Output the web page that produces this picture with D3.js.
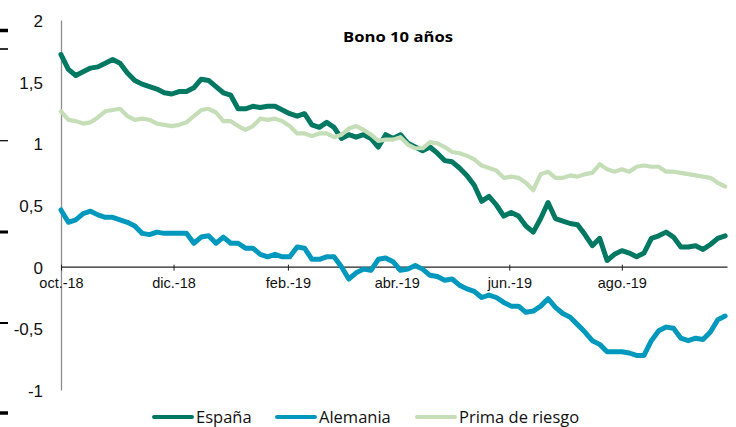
<!DOCTYPE html>
<html>
<head>
<meta charset="utf-8">
<script src="https://cdn.jsdelivr.net/npm/d3@7"></script>
<style>
  body { margin: 0; background: #fff; }
  svg { display: block; }
  .axis text { font-family: "Liberation Sans", Arial, sans-serif; fill: #111; }
</style>
</head>
<body>
<svg id="chart"></svg>
<script>
// Data (4-day steps starting 1 Oct 2018)
const startDate = new Date(2018, 9, 1);
const stepDays = 4;

const espana = [1.72,1.60,1.55,1.58,1.61,1.62,1.65,1.68,1.65,1.57,
  1.51,1.48,1.46,1.44,1.41,1.40,1.42,1.42,1.45,1.52,
  1.51,1.46,1.41,1.39,1.28,1.28,1.30,1.29,1.30,1.30,
  1.27,1.24,1.22,1.24,1.15,1.13,1.17,1.13,1.04,1.07,
  1.05,1.07,1.04,0.97,1.07,1.04,1.07,1.00,0.97,0.94,
  0.97,0.92,0.86,0.85,0.80,0.74,0.66,0.53,0.57,0.50,
  0.41,0.44,0.41,0.33,0.28,0.39,0.52,0.39,0.37,0.35,
  0.34,0.26,0.17,0.23,0.05,0.10,0.13,0.11,0.08,0.11,
  0.23,0.25,0.28,0.24,0.16,0.16,0.17,0.14,0.18,0.23,0.25];

const alemania = [0.46,0.36,0.38,0.43,0.45,0.42,0.40,0.40,0.38,0.36,
  0.33,0.27,0.26,0.28,0.27,0.27,0.27,0.27,0.19,0.24,
  0.25,0.19,0.24,0.19,0.19,0.15,0.15,0.10,0.08,0.10,
  0.08,0.08,0.16,0.15,0.06,0.06,0.08,0.08,0.00,-0.10,
  -0.05,-0.02,-0.03,0.06,0.07,0.04,-0.03,-0.02,0.01,-0.02,
  -0.07,-0.08,-0.11,-0.10,-0.15,-0.18,-0.20,-0.25,-0.23,-0.25,
  -0.29,-0.32,-0.32,-0.37,-0.36,-0.32,-0.26,-0.33,-0.38,-0.41,
  -0.47,-0.53,-0.60,-0.63,-0.69,-0.69,-0.69,-0.70,-0.72,-0.72,
  -0.60,-0.52,-0.49,-0.50,-0.58,-0.60,-0.58,-0.59,-0.53,-0.43,-0.40];

const prima = [1.26,1.19,1.18,1.16,1.17,1.21,1.26,1.27,1.28,1.22,
  1.19,1.20,1.19,1.16,1.15,1.14,1.15,1.17,1.22,1.27,
  1.28,1.25,1.18,1.18,1.14,1.11,1.14,1.20,1.19,1.20,
  1.18,1.14,1.08,1.08,1.06,1.08,1.08,1.05,1.07,1.12,
  1.14,1.11,1.07,1.02,1.03,1.03,1.05,0.99,0.96,0.96,
  1.01,1.00,0.97,0.93,0.92,0.90,0.87,0.82,0.80,0.78,
  0.72,0.73,0.72,0.68,0.62,0.75,0.77,0.72,0.72,0.74,
  0.73,0.75,0.76,0.83,0.79,0.77,0.79,0.77,0.81,0.82,
  0.81,0.81,0.77,0.77,0.76,0.75,0.74,0.73,0.72,0.68,0.65];

const seriesNames = ["España", "Alemania", "Prima de riesgo"];
const seriesColors = ["#007862", "#0099bd", "#c5deb8"];

const xTickDates = [new Date(2018, 9, 1), new Date(2018, 11, 1), new Date(2019, 1, 1),
  new Date(2019, 3, 1), new Date(2019, 5, 1), new Date(2019, 7, 1)];
const xTickLabels = ["oct.-18", "dic.-18", "feb.-19", "abr.-19", "jun.-19", "ago.-19"];
const yTicks = [-1, -0.5, 0, 0.5, 1, 1.5, 2];

// Chart Dimensions
const width = 736;
const height = 427;

const svg = d3.select("#chart").attr("width", width).attr("height", height);

const dates = espana.map((d, i) => d3.timeDay.offset(startDate, i * stepDays));

// Scales
const x = d3.scaleTime()
  .domain([new Date(2018, 9, 1), new Date(2019, 8, 27)])
  .range([61, 727]);
const y = d3.scaleLinear().domain([-1, 2]).range([390, 20]);

// stray marks on left edge of the source image
[[30.5, 3.5], [49, 1.6], [140.7, 1.2], [232, 3], [323, 2], [413, 3.5]].forEach(([cy, h]) => {
  svg.append("rect").attr("x", 0).attr("y", cy - h / 2).attr("width", 8).attr("height", h).attr("fill", "#000");
});

// Y Axis
const yAxis = svg.append("g")
  .attr("class", "axis")
  .attr("transform", "translate(61,0)")
  .call(d3.axisLeft(y).tickValues(yTicks).tickSize(0).tickPadding(18)
    .tickFormat((d) => String(d).replace(".", ",")));
yAxis.select(".domain").attr("stroke", "#8c8c8c").attr("stroke-width", 1.3);
yAxis.selectAll("text").attr("font-size", 17).attr("dy", "0.38em");

// X Axis
const xAxis = svg.append("g")
  .attr("class", "axis")
  .attr("transform", `translate(0,${y(0)})`)
  .call(d3.axisBottom(x).tickValues(xTickDates).tickSizeOuter(0).tickSizeInner(4).tickPadding(7)
    .tickFormat((d, i) => xTickLabels[i]));
xAxis.select(".domain").attr("stroke", "#222").attr("stroke-width", 1.3);
xAxis.selectAll(".tick line").attr("stroke", "#222").attr("y1", -2);
xAxis.selectAll("text").attr("font-size", 14.5);

// Lines
const line = d3.line()
  .x((d, i) => x(dates[i]))
  .y((d) => y(d));

[espana, alemania, prima].forEach((values, s) => {
  svg.append("path")
    .datum(values)
    .attr("fill", "none")
    .attr("stroke", seriesColors[s])
    .attr("stroke-width", s === 2 ? 4.2 : 5)
    .attr("stroke-linejoin", "round")
    .attr("stroke-linecap", "round")
    .attr("d", line);
});

// Title
svg.append("text")
  .attr("x", 398)
  .attr("y", 42)
  .attr("text-anchor", "middle")
  .attr("font-family", "'Open Sans', sans-serif")
  .attr("font-weight", "bold")
  .attr("font-size", 15)
  .attr("textLength", 110)
  .attr("lengthAdjust", "spacingAndGlyphs")
  .text("Bono 10 años");

// Legend
const legendX = [154, 277, 417];
const legend = svg.selectAll(".legend-item")
  .data(seriesNames)
  .enter()
  .append("g")
  .attr("class", "legend-item")
  .attr("transform", (d, i) => `translate(${legendX[i]},417)`);

legend.append("line")
  .attr("x1", 0).attr("x2", 38)
  .attr("stroke", (d, i) => seriesColors[i])
  .attr("stroke-width", 4)
  .attr("stroke-linecap", "round");

legend.append("text")
  .attr("x", 42)
  .attr("y", 5.5)
  .attr("font-family", "'Open Sans', sans-serif")
  .attr("font-size", 16.5)
  .attr("fill", "#111")
  .text((d) => d);
</script>
</body>
</html>
